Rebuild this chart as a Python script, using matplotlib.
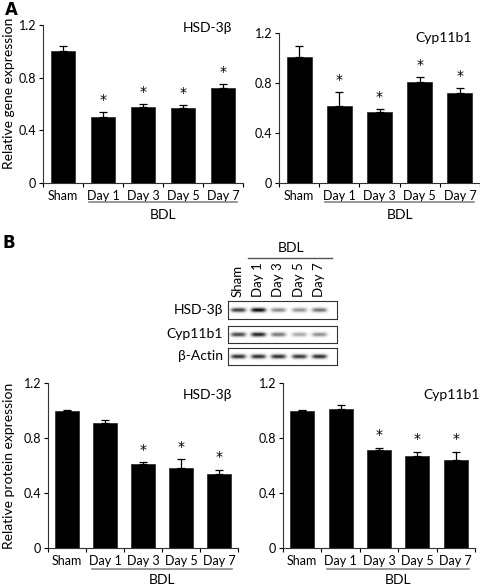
import numpy as np
import matplotlib
matplotlib.use("Agg")
import matplotlib.pyplot as plt

plt.rcParams['font.family'] = ['Lato', 'DejaVu Sans']

groups = ["Sham", "Day 1", "Day 3", "Day 5", "Day 7"]

# panel A: relative gene expression
gene_hsd = [1.00, 0.50, 0.58, 0.57, 0.72]
gene_hsd_err = [0.04, 0.04, 0.02, 0.02, 0.03]
gene_hsd_sig = [False, True, True, True, True]
gene_cyp = [1.01, 0.62, 0.57, 0.81, 0.72]
gene_cyp_err = [0.09, 0.11, 0.02, 0.04, 0.04]
gene_cyp_sig = [False, True, True, True, True]

# panel B: relative protein expression
prot_hsd = [1.00, 0.91, 0.61, 0.58, 0.54]
prot_hsd_err = [0.004, 0.02, 0.015, 0.065, 0.03]
prot_hsd_sig = [False, False, True, True, True]
prot_cyp = [1.00, 1.01, 0.71, 0.67, 0.64]
prot_cyp_err = [0.004, 0.03, 0.02, 0.03, 0.06]
prot_cyp_sig = [False, False, True, True, True]

# western blot band intensities (0-1)
blot_rows = ["HSD-3\u03b2", "Cyp11b1", "\u03b2-Actin"]
blot_hsd = [0.75, 0.95, 0.45, 0.42, 0.55]
blot_cyp = [0.75, 0.90, 0.55, 0.35, 0.45]
blot_actin = [0.85, 0.85, 0.85, 0.82, 0.85]

W, H = 480, 586
fig = plt.figure(figsize=(W / 100, H / 100), dpi=100)


def px(left, top, right, bottom):
    return [left / W, 1 - bottom / H, (right - left) / W, (bottom - top) / H]


def bar_panel(rect, vals, errs, sig, title, tpos, bdl_y, txt_y):
    ax = fig.add_axes(rect)
    x = np.arange(len(groups))
    ax.bar(x, vals, width=0.62, color="black", edgecolor="#222222", linewidth=0.5)
    ax.errorbar(x, vals, yerr=[np.zeros(len(vals)), errs], fmt="none",
                ecolor="black", elinewidth=0.9, capsize=3, capthick=0.9)
    for i in range(len(vals)):
        if sig[i]:
            ax.text(x[i], vals[i] + errs[i] + 0.04, "*", ha="center", va="bottom",
                    fontsize=10, family="DejaVu Sans")
    ax.set_xlim(-0.5, 4.5)
    ax.set_ylim(0, 1.2)
    ax.set_yticks([0, 0.4, 0.8, 1.2])
    ax.set_yticklabels(["0", "0.4", "0.8", "1.2"])
    ax.set_xticks(np.arange(-0.5, 5, 1.0))
    ax.set_xticklabels([])
    ax.set_xticks(x, minor=True)
    ax.set_xticklabels(groups, minor=True)
    ax.tick_params(axis="x", which="minor", length=0, labelsize=9, pad=5)
    ax.tick_params(axis="x", which="major", length=3, width=0.8, direction="out")
    ax.tick_params(axis="y", length=3, width=0.8, labelsize=9, pad=2)
    for s in ["top", "right"]:
        ax.spines[s].set_visible(False)
    for s in ["left", "bottom"]:
        ax.spines[s].set_color("#333333")
        ax.spines[s].set_linewidth(0.8)
    ax.text(tpos[0], tpos[1], title, transform=ax.transAxes, ha="center",
            va="center", fontsize=10)
    tr = ax.get_xaxis_transform()
    ax.plot([0.65, 4.35], [bdl_y, bdl_y], color="#888888", lw=1.2,
            transform=tr, clip_on=False)
    ax.text(2.5, txt_y, "BDL", transform=tr, ha="center", va="center",
            fontsize=10)
    return ax


bar_panel(px(43, 25, 243, 183), gene_hsd, gene_hsd_err, gene_hsd_sig,
          "HSD-3\u03b2", (0.82, 0.98), -0.12, -0.2)
bar_panel(px(279, 33, 480, 183), gene_cyp, gene_cyp_err, gene_cyp_sig,
          "Cyp11b1", (0.82, 0.97), -0.127, -0.213)
bar_panel(px(48, 383, 238, 548), prot_hsd, prot_hsd_err, prot_hsd_sig,
          "HSD-3\u03b2", (0.84, 0.93), -0.127, -0.194)
bar_panel(px(283, 383, 475, 548), prot_cyp, prot_cyp_err, prot_cyp_sig,
          "Cyp11b1", (0.88, 0.93), -0.127, -0.194)

fig.text(5 / W, 1 - 10 / H, "A", fontsize=12, fontweight="bold", va="center",
         family="DejaVu Sans")
fig.text(3 / W, 1 - 243 / H, "B", fontsize=12, fontweight="bold", va="center",
         family="DejaVu Sans")
fig.text(9 / W, 1 - 93 / H, "Relative gene expression", rotation=90,
         ha="center", va="center", fontsize=10)
fig.text(9 / W, 1 - 466 / H, "Relative protein expression", rotation=90,
         ha="center", va="center", fontsize=10)

# western blot strips
box_left, box_right = 228, 337
rows_px = [(301, 319), (326, 343), (348, 365)]
lane_x = [238, 258, 278, 299, 319]
yy, xx = np.mgrid[0:18, box_left:box_right]
for name, bands, (top, bot) in zip(blot_rows, [blot_hsd, blot_cyp, blot_actin], rows_px):
    ax = fig.add_axes(px(box_left, top, box_right, bot))
    img = np.zeros(xx.shape)
    for cx, a in zip(lane_x, bands):
        img += a * np.exp(-((yy - 8.5) / 2.2) ** 2) * np.exp(-((xx - cx) / 7.5) ** 4)
    ax.imshow(img, cmap="gray_r", vmin=0, vmax=1.0, aspect="auto",
              interpolation="bilinear")
    ax.set_xticks([])
    ax.set_yticks([])
    for s in ax.spines.values():
        s.set_linewidth(0.8)
        s.set_color("#333333")
    fig.text((box_left - 5) / W, 1 - (top + bot) / 2 / H, name, ha="right",
             va="center", fontsize=10)

for g, cx in zip(groups, lane_x):
    fig.text(cx / W, 1 - 297 / H, g, rotation=90, ha="center", va="bottom",
             fontsize=9.5)
fig.add_artist(plt.Line2D([248 / W, 332 / W], [1 - 258 / H, 1 - 258 / H],
                          color="#555555", lw=1.0))
fig.text(291 / W, 1 - 248 / H, "BDL", ha="center", va="center", fontsize=10)

fig.savefig("out.png", dpi=100)
